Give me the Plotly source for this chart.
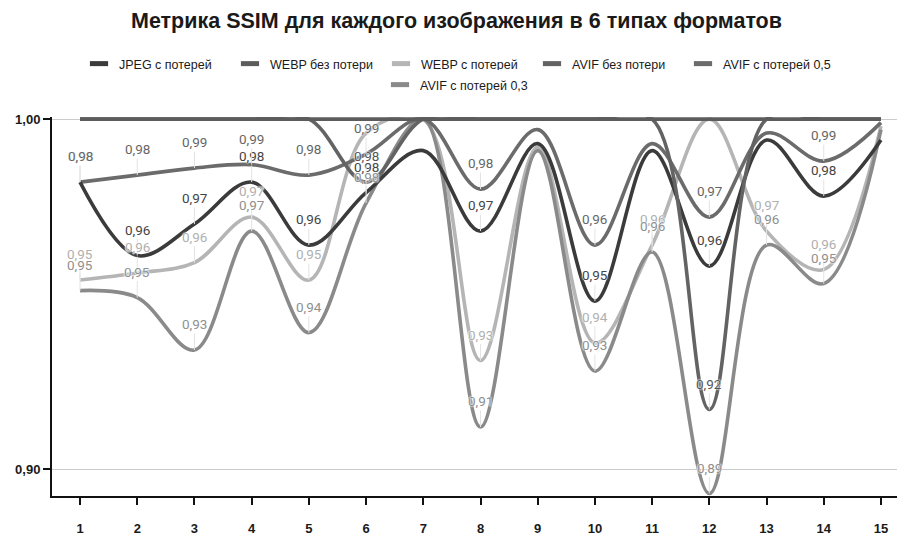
import plotly.graph_objects as go

# ---------------- data ----------------
images = [1, 2, 3, 4, 5, 6, 7, 8, 9, 10, 11, 12, 13, 14, 15]
tick_labels = ["1", "2", "3", "4", "5", "6", "7", "8", "9", "10", "11", "12", "13", "14", "15"]

series_names = ["JPEG с потерей", "WEBP без потери", "WEBP с потерей",
                "AVIF без потери", "AVIF с потерей 0,5", "AVIF с потерей 0,3"]

jpeg_lossy = [0.982, 0.961, 0.970, 0.982, 0.964, 0.979, 0.991, 0.968, 0.993, 0.948, 0.991, 0.958, 0.994, 0.978, 0.994]
webp_lossless = [1.000, 1.000, 1.000, 1.000, 1.000, 1.000, 1.000, 1.000, 1.000, 1.000, 1.000, 1.000, 1.000, 1.000, 1.000]
webp_lossy = [0.954, 0.956, 0.959, 0.972, 0.954, 0.996, 1.000, 0.931, 0.992, 0.936, 0.964, 1.000, 0.968, 0.957, 0.998]
avif_lossless = [1.000, 1.000, 1.000, 1.000, 1.000, 0.982, 1.000, 1.000, 1.000, 1.000, 1.000, 0.917, 1.000, 1.000, 1.000]
avif_lossy_05 = [0.982, 0.984, 0.986, 0.987, 0.984, 0.990, 1.000, 0.980, 0.997, 0.964, 0.993, 0.972, 0.996, 0.988, 0.999]
avif_lossy_03 = [0.951, 0.949, 0.934, 0.968, 0.939, 0.976, 1.000, 0.912, 0.991, 0.928, 0.962, 0.893, 0.964, 0.953, 0.997]

y_ticks = [0.90, 1.00]

# ---------------- style ----------------
series_values = [jpeg_lossy, webp_lossless, webp_lossy, avif_lossless, avif_lossy_05, avif_lossy_03]
line_colors = ["#3b3b3b", "#5c5c5c", "#b5b5b5", "#636363", "#6b6b6b", "#8a8a8a"]
label_colors = ["#444444", "#5c5c5c", "#b0b0b0", "#555555", "#666666", "#8f8f8f"]
legend_ids = ["legend", "legend", "legend", "legend", "legend", "legend2"]
draw_order = [2, 5, 4, 0, 3, 1]

W, H = 897, 534  # page body has an 8px margin inside the 905x542 window

fig = go.Figure()

for i in draw_order:
    fig.add_trace(go.Scatter(
        x=images, y=series_values[i], name=series_names[i],
        mode="lines", line=dict(color=line_colors[i], width=3.6, shape="spline", smoothing=1.0),
        showlegend=False, legendgroup=series_names[i], hoverinfo="x+y+name",
    ))

# legend-only entries with short swatches
for i in range(6):
    fig.add_trace(go.Scatter(
        x=[None], y=[None], name=series_names[i], mode="markers",
        marker=dict(symbol="line-ew", size=13, color=line_colors[i],
                    line=dict(color=line_colors[i], width=5)),
        legendgroup=series_names[i], showlegend=True, legend=legend_ids[i],
    ))

# value labels with leader lines
annotations = []
shadow = "0 0 2px #fff, 0 0 2px #fff, 0 0 1px #fff"
for i in range(6):
    for xv, yv in zip(images, series_values[i]):
        if yv < 0.9905:
            annotations.append(dict(
                x=xv, y=yv, xref="x", yref="y",
                text=f"{yv:.2f}".replace(".", ","),
                showarrow=True, arrowhead=0, arrowwidth=1, arrowcolor="#e3e3e3",
                ax=0, ay=-26, standoff=0,
                font=dict(family="Roboto", size=13.5, color=label_colors[i], shadow=shadow),
            ))

legend_font = dict(family="Liberation Sans", size=12.5, color="#1a1a1a")

fig.update_layout(
    width=W, height=H,
    margin=dict(l=44, r=0, t=109, b=46),
    paper_bgcolor="white", plot_bgcolor="white",
    separators=", ",
    title=dict(text="Метрика SSIM для каждого изображения в 6 типах форматов",
               x=0.5, xref="container", xanchor="center",
               y=1 - 12 / H, yref="container", yanchor="middle",
               font=dict(family="Liberation Sans", size=21.5, color="#1a1a1a", weight="bold")),
    legend=dict(orientation="h", xref="container", x=0.5, xanchor="center",
                yref="container", y=1 - 41 / H, yanchor="top",
                font=legend_font, itemwidth=30, entrywidth=106, tracegroupgap=0),
    legend2=dict(orientation="h", xref="container", x=0.5, xanchor="center",
                 yref="container", y=1 - 62 / H, yanchor="top",
                 font=legend_font, itemwidth=30, tracegroupgap=0),
    annotations=annotations,
    showlegend=True,
)

fig.update_xaxes(
    range=[0.51, 15.42], tickvals=images, ticktext=tick_labels,
    showgrid=False, zeroline=False,
    showline=True, linecolor="#111111", linewidth=2,
    ticks="outside", ticklen=7, tickwidth=2, tickcolor="#111111",
    ticklabelstandoff=12,
    tickfont=dict(family="Liberation Sans", size=13, color="#1a1a1a", weight="bold"),
)
fig.update_yaxes(
    range=[0.8923, 1.0006], tickvals=y_ticks, tickformat=".2f",
    showgrid=True, gridcolor="#cccccc", gridwidth=1, zeroline=False,
    showline=True, linecolor="#111111", linewidth=2,
    ticks="outside", ticklen=7, tickwidth=2, tickcolor="#111111",
    tickfont=dict(family="Liberation Sans", size=13, color="#1a1a1a", weight="bold"),
)

fig.write_html("out.html")
